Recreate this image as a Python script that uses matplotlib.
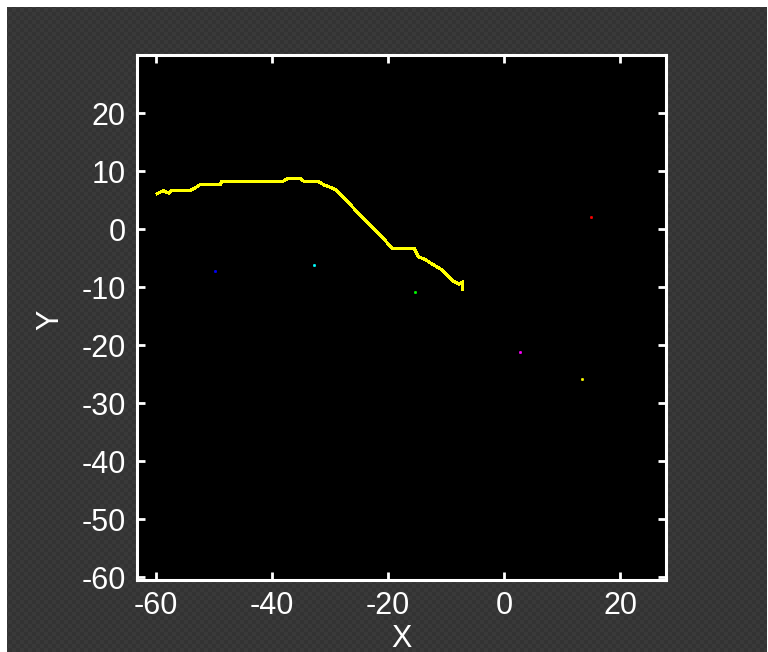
import matplotlib
matplotlib.use("Agg")
import matplotlib.pyplot as plt
import numpy as np

# ---- data ----
path_x = [-59.7, -58.7, -57.7, -57.2, -54.1, -53.2, -52.4, -48.9, -48.6, -38.1,
          -37.3, -35.1, -34.4, -32.0, -31.0, -29.9, -28.9, -19.2, -15.5, -14.7,
          -13.5, -12.1, -10.9, -10.0, -9.0, -7.8, -7.1, -7.1]
path_y = [6.1, 6.6, 6.2, 6.65, 6.65, 7.1, 7.6, 7.6, 8.2, 8.2,
          8.7, 8.7, 8.2, 8.2, 7.6, 7.2, 6.7, -3.3, -3.3, -4.8,
          -5.3, -6.2, -6.9, -7.7, -8.8, -9.5, -9.1, -10.5]
pts_x = [-49.7, -32.8, -15.3, 15.0, 2.7, 13.5]
pts_y = [-7.27, -6.2, -10.9, 2.0, -21.2, -25.8]
pts_c = ["#0000ff", "#00ffff", "#00ff00", "#ff0000", "#ff00ff", "#ffff00"]
xticks = [-60, -40, -20, 0, 20]
yticks = [20, 10, 0, -10, -20, -30, -40, -50, -60]

plt.rcParams['font.family'] = ['Liberation Sans Narrow', 'Liberation Sans', 'DejaVu Sans']
plt.rcParams['axes.unicode_minus'] = False

fig = plt.figure(figsize=(7.68, 6.52), dpi=100, facecolor="white")
# dark textured background
W, H = 768, 652
yy, xx = np.mgrid[0:H, 0:W]
chk = ((xx // 4 + yy // 4) % 2).astype(float)
img = np.zeros((H, W, 3))
base = 0.20 + 0.025 * chk
img[..., 0] = base; img[..., 1] = base; img[..., 2] = base
img[:7, :, :] = 1.0
img[:, :7, :] = 1.0
img[:, -1:, :] = 1.0
bg = fig.add_axes([0, 0, 1, 1], zorder=-10)
bg.imshow(img, aspect='auto', interpolation='nearest')
bg.axis('off')

ax = fig.add_axes([137/768, 72/652, 529/768, 525/652], zorder=1)
ax.set_facecolor("black")
ax.plot(path_x, path_y, color="#ffff00", lw=1.5, antialiased=False, solid_joinstyle='miter')
for x, y, c in zip(pts_x, pts_y, pts_c):
    ax.plot([x], [y], marker='s', ms=1.2, color=c, mec=c, mew=0.7, ls='none', antialiased=False)

ax.set_xlim(-63.2, 27.9)
ax.set_ylim(-60.5, 30)
ax.set_xticks(xticks)
ax.set_yticks(yticks)
ax.tick_params(direction='in', length=6, width=2, colors='white', top=True, right=True,
               labelsize=22, labelcolor='white', pad=8)
for s in ax.spines.values():
    s.set_color('white')
    s.set_linewidth(2.2)
ax.set_xlabel("X", color='white', fontsize=22, labelpad=2)
ax.set_ylabel("Y", color='white', fontsize=22)
ax.yaxis.set_label_coords(-0.135, 0.495)

fig.savefig("out.png", dpi=100, facecolor=fig.get_facecolor())
